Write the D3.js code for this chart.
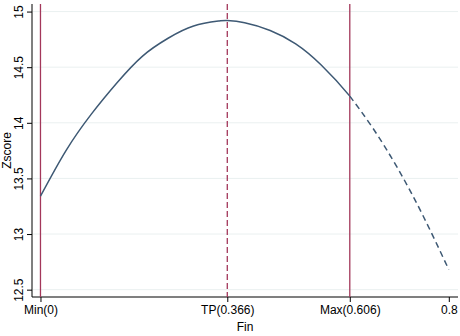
<!DOCTYPE html>
<html>
<head>
<meta charset="utf-8">
<script src="https://cdn.jsdelivr.net/npm/d3@7"></script>
<style>
  html, body { margin: 0; padding: 0; background: #fff; }
  svg { display: block; font-family: "Liberation Sans", Arial, sans-serif; }
</style>
</head>
<body>
<svg id="chart" width="460" height="336"></svg>
<script>
// Werte
const finValues    = [0, 0.05, 0.1, 0.15, 0.2, 0.25, 0.3, 0.35, 0.366, 0.4, 0.45, 0.5, 0.55, 0.606, 0.65, 0.7, 0.75, 0.8];
const zscoreValues = [13.34, 13.75, 14.08, 14.36, 14.60, 14.76, 14.87, 14.915, 14.92, 14.90, 14.83, 14.71, 14.52, 14.24, 13.96, 13.59, 13.16, 12.68];
const markerValues = [0, 0.366, 0.606];
const markerDashed = [false, true, false];
const xTickValues  = [0, 0.366, 0.606, 0.8];
const xTickLabels  = ["Min(0)", "TP(0.366)", "Max(0.606)", "0.8"];
const yTickValues  = [12.5, 13, 13.5, 14, 14.5, 15];
const splitAt = 0.606;

const plotLeft = 32, plotRight = 458, plotTop = 4, plotBottom = 297;

const svg = d3.select('#chart');
const x = d3.scaleLinear().domain([-0.0166, 0.818]).range([plotLeft, plotRight]);
const y = d3.scaleLinear().domain([12.434, 15.068]).range([plotBottom, plotTop]);

const lineColor = '#3e5974';
const markColor = '#a3375a';

// Gitterlinien
svg.append('g').selectAll('line').data(yTickValues).join('line')
  .attr('x1', plotLeft + 1).attr('x2', plotRight)
  .attr('y1', d => y(d)).attr('y2', d => y(d))
  .attr('stroke', '#eaf0f0').attr('stroke-width', 1);

// Achsen
const yAxis = svg.append('g').attr('transform', `translate(${plotLeft},0)`)
  .call(d3.axisLeft(y).tickValues(yTickValues).tickSize(5).tickFormat(d3.format('')));
yAxis.select('.domain').attr('d', `M0,${plotTop}V${plotBottom}`).attr('stroke', '#000');
yAxis.selectAll('.tick line').attr('stroke', '#000');
yAxis.selectAll('.tick text')
  .attr('font-size', 12).attr('fill', '#000')
  .attr('text-anchor', 'middle')
  .attr('x', 0).attr('y', 0).attr('dy', 0)
  .attr('transform', 'translate(-9,0) rotate(-90)');

const xAxis = svg.append('g').attr('transform', `translate(0,${plotBottom})`)
  .call(d3.axisBottom(x).tickValues(xTickValues).tickSize(5).tickPadding(3)
    .tickFormat((d, i) => xTickLabels[i]));
xAxis.select('.domain').attr('d', `M${plotLeft},0H${plotRight}`).attr('stroke', '#000');
xAxis.selectAll('.tick line').attr('stroke', '#000');
xAxis.selectAll('.tick text').attr('font-size', 12).attr('fill', '#000');

// Achsentitel
svg.append('text').attr('x', (plotLeft + plotRight) / 2).attr('y', 331)
  .attr('text-anchor', 'middle').attr('font-size', 12).text('Fin');
svg.append('text').attr('transform', `translate(11,${(plotTop + plotBottom) / 2}) rotate(-90)`)
  .attr('text-anchor', 'middle').attr('font-size', 12).text('Zscore');

// Vertikale Markierungen
svg.append('g').selectAll('line').data(markerValues).join('line')
  .attr('x1', d => x(d)).attr('x2', d => x(d))
  .attr('y1', plotTop).attr('y2', plotBottom)
  .attr('stroke', markColor).attr('stroke-width', 1.3)
  .attr('stroke-dasharray', (d, i) => markerDashed[i] ? '6,3' : null);

// Kurve: eine glatte Linie, links von Max durchgezogen, rechts gestrichelt (per Clip)
const defs = svg.append('defs');
defs.append('clipPath').attr('id', 'clipSolid').append('rect')
  .attr('x', 0).attr('y', 0).attr('width', x(splitAt)).attr('height', 336);
defs.append('clipPath').attr('id', 'clipDashed').append('rect')
  .attr('x', x(splitAt)).attr('y', 0).attr('width', 460 - x(splitAt)).attr('height', 336);

const points = finValues.map((f, i) => ({ f, z: zscoreValues[i] }));
const line = d3.line().x(d => x(d.f)).y(d => y(d.z)).curve(d3.curveNatural);
svg.append('path').datum(points)
  .attr('d', line).attr('fill', 'none').attr('clip-path', 'url(#clipSolid)')
  .attr('stroke', lineColor).attr('stroke-width', 1.5);
svg.append('path').datum(points.filter(p => p.f >= splitAt))
  .attr('d', line).attr('fill', 'none').attr('clip-path', 'url(#clipDashed)')
  .attr('stroke', lineColor).attr('stroke-width', 1.5)
  .attr('stroke-dasharray', '6,4');
</script>
</body>
</html>
